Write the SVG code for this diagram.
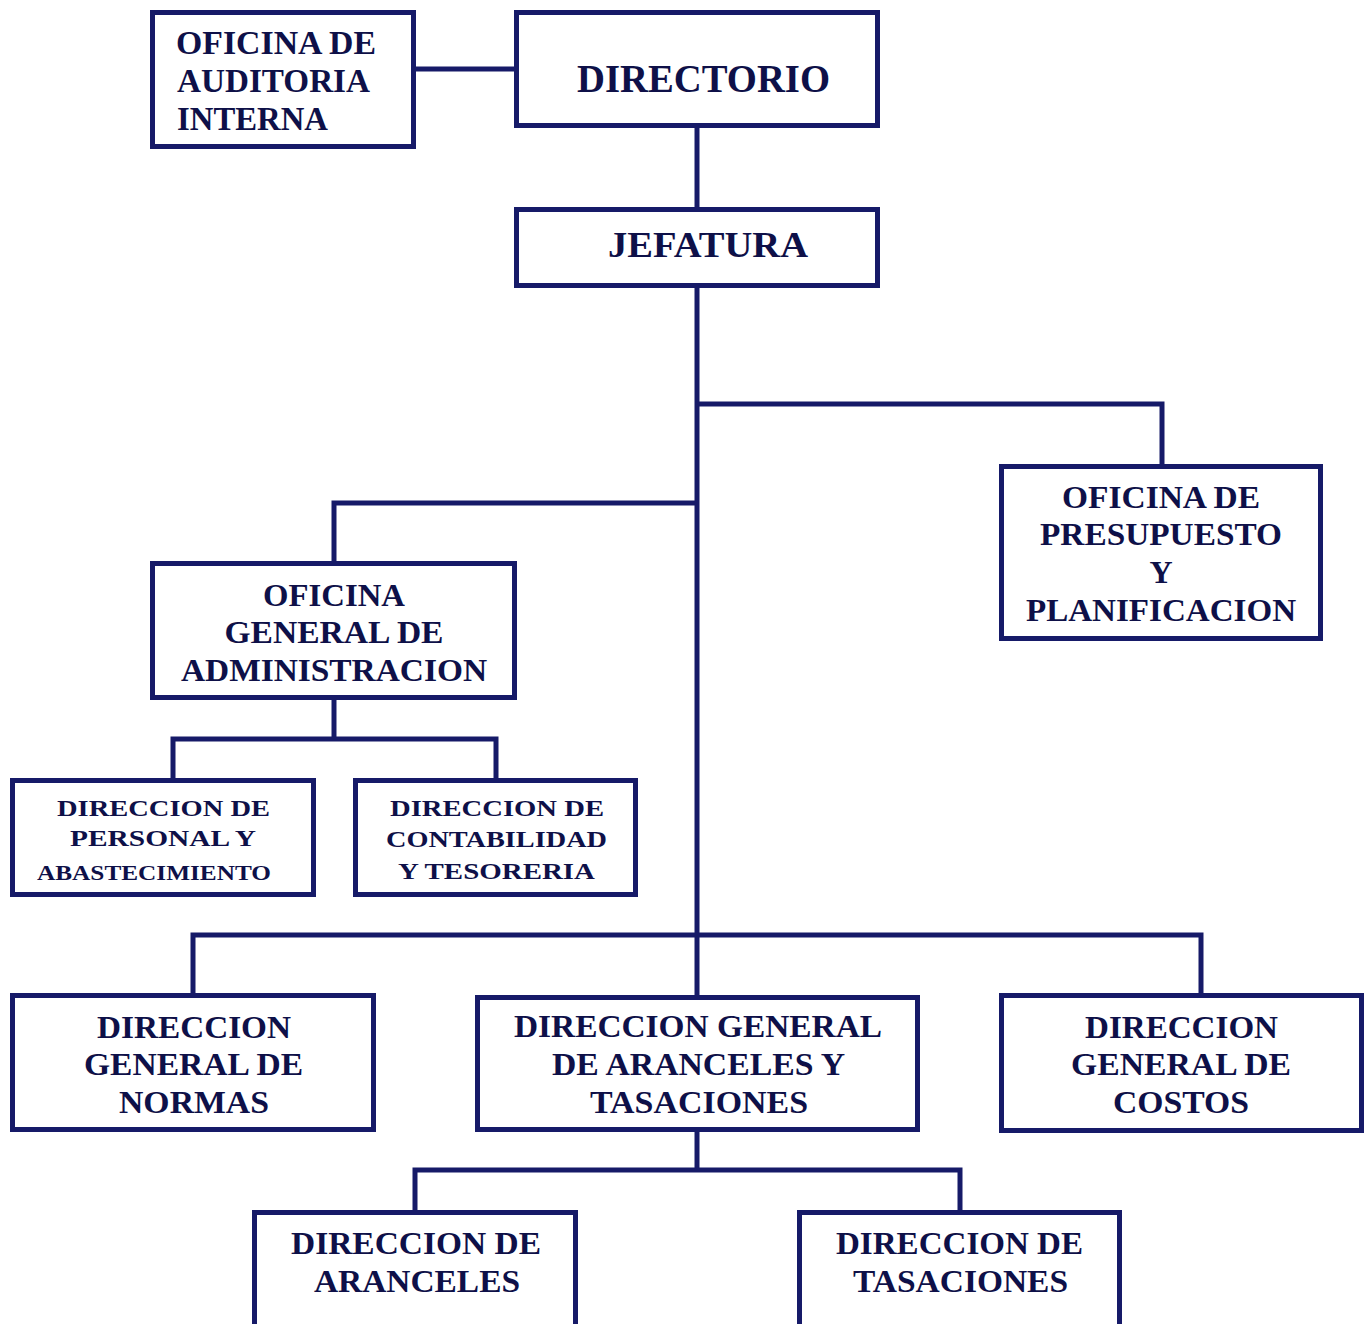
<svg xmlns="http://www.w3.org/2000/svg" width="1371" height="1324" viewBox="0 0 1371 1324">
<style>
.box{fill:#ffffff;stroke:#161a68;stroke-width:5}
.ln{fill:none;stroke:#161a68;stroke-width:5}
text{font-family:"Liberation Serif","Times New Roman",serif;font-weight:bold;fill:#0e1048}
.c{text-anchor:middle}
</style>
<rect x="0" y="0" width="1371" height="1324" fill="#ffffff"/>
<g id="connectors">
<path class="ln" d="M416 69H514"/>
<path class="ln" d="M697 128V207"/>
<path class="ln" d="M697 288V995"/>
<path class="ln" d="M697 404H1162V464"/>
<path class="ln" d="M697 503H334V561"/>
<path class="ln" d="M334 700V739"/>
<path class="ln" d="M173 778V739H496V778"/>
<path class="ln" d="M193 993V935H1201V993"/>
<path class="ln" d="M697 1132V1170"/>
<path class="ln" d="M415 1210V1170H960V1210"/>
</g>
<g id="auditoria">
<rect class="box" x="152.5" y="12.5" width="261" height="134"/>
<text x="176" y="54" font-size="33" textLength="200" lengthAdjust="spacingAndGlyphs">OFICINA DE</text>
<text x="177" y="92" font-size="33" textLength="193" lengthAdjust="spacingAndGlyphs">AUDITORIA</text>
<text x="177" y="130" font-size="33" textLength="151" lengthAdjust="spacingAndGlyphs">INTERNA</text>
</g>
<g id="directorio">
<rect class="box" x="516.5" y="12.5" width="361" height="113"/>
<text class="c" x="703.5" y="92" font-size="39" textLength="253" lengthAdjust="spacingAndGlyphs">DIRECTORIO</text>
</g>
<g id="jefatura">
<rect class="box" x="516.5" y="209.5" width="361" height="76"/>
<text class="c" x="708" y="257" font-size="36" textLength="200" lengthAdjust="spacingAndGlyphs">JEFATURA</text>
</g>
<g id="presupuesto">
<rect class="box" x="1001.5" y="466.5" width="319" height="172"/>
<text class="c" x="1161" y="508" font-size="32" textLength="198" lengthAdjust="spacingAndGlyphs">OFICINA DE</text>
<text class="c" x="1161" y="545" font-size="32" textLength="242" lengthAdjust="spacingAndGlyphs">PRESUPUESTO</text>
<text class="c" x="1161" y="583" font-size="32">Y</text>
<text class="c" x="1161" y="621" font-size="32" textLength="270" lengthAdjust="spacingAndGlyphs">PLANIFICACION</text>
</g>
<g id="administracion">
<rect class="box" x="152.5" y="563.5" width="362" height="134"/>
<text class="c" x="334" y="606" font-size="31" textLength="142" lengthAdjust="spacingAndGlyphs">OFICINA</text>
<text class="c" x="334" y="643" font-size="31" textLength="219" lengthAdjust="spacingAndGlyphs">GENERAL DE</text>
<text class="c" x="334" y="681" font-size="31" textLength="306" lengthAdjust="spacingAndGlyphs">ADMINISTRACION</text>
</g>
<g id="personal">
<rect class="box" x="12.5" y="780.5" width="301" height="114"/>
<text class="c" x="163.5" y="816" font-size="23" textLength="213" lengthAdjust="spacingAndGlyphs">DIRECCION  DE</text>
<text class="c" x="163" y="846" font-size="23" textLength="186" lengthAdjust="spacingAndGlyphs">PERSONAL  Y</text>
<text class="c" x="154" y="880" font-size="21" textLength="234" lengthAdjust="spacingAndGlyphs">ABASTECIMIENTO</text>
</g>
<g id="contabilidad">
<rect class="box" x="355.5" y="780.5" width="280" height="114"/>
<text class="c" x="497" y="816" font-size="23" textLength="214" lengthAdjust="spacingAndGlyphs">DIRECCION  DE</text>
<text class="c" x="496.5" y="847" font-size="23" textLength="221" lengthAdjust="spacingAndGlyphs">CONTABILIDAD</text>
<text class="c" x="496.5" y="879" font-size="23" textLength="197" lengthAdjust="spacingAndGlyphs">Y  TESORERIA</text>
</g>
<g id="normas">
<rect class="box" x="12.5" y="995.5" width="361" height="134"/>
<text class="c" x="194" y="1038" font-size="32" textLength="194" lengthAdjust="spacingAndGlyphs">DIRECCION</text>
<text class="c" x="193.5" y="1075" font-size="32" textLength="219" lengthAdjust="spacingAndGlyphs">GENERAL DE</text>
<text class="c" x="194" y="1113" font-size="32" textLength="150" lengthAdjust="spacingAndGlyphs">NORMAS</text>
</g>
<g id="aranceles-tasaciones">
<rect class="box" x="477.5" y="997.5" width="440" height="132"/>
<text class="c" x="698" y="1037" font-size="32" textLength="368" lengthAdjust="spacingAndGlyphs">DIRECCION GENERAL</text>
<text class="c" x="698.5" y="1075" font-size="32" textLength="293" lengthAdjust="spacingAndGlyphs">DE ARANCELES Y</text>
<text class="c" x="699" y="1113" font-size="32" textLength="218" lengthAdjust="spacingAndGlyphs">TASACIONES</text>
</g>
<g id="costos">
<rect class="box" x="1001.5" y="995.5" width="360" height="135"/>
<text class="c" x="1181.5" y="1038" font-size="32" textLength="193" lengthAdjust="spacingAndGlyphs">DIRECCION</text>
<text class="c" x="1181" y="1075" font-size="32" textLength="220" lengthAdjust="spacingAndGlyphs">GENERAL DE</text>
<text class="c" x="1181" y="1113" font-size="32" textLength="136" lengthAdjust="spacingAndGlyphs">COSTOS</text>
</g>
<g id="aranceles">
<rect class="box" x="254.5" y="1212.5" width="321" height="130"/>
<text class="c" x="416" y="1254" font-size="32" textLength="250" lengthAdjust="spacingAndGlyphs">DIRECCION DE</text>
<text class="c" x="417" y="1292" font-size="32" textLength="206" lengthAdjust="spacingAndGlyphs">ARANCELES</text>
</g>
<g id="tasaciones">
<rect class="box" x="799.5" y="1212.5" width="320" height="130"/>
<text class="c" x="959.5" y="1254" font-size="32" textLength="247" lengthAdjust="spacingAndGlyphs">DIRECCION DE</text>
<text class="c" x="960.5" y="1292" font-size="32" textLength="215" lengthAdjust="spacingAndGlyphs">TASACIONES</text>
</g>
</svg>
